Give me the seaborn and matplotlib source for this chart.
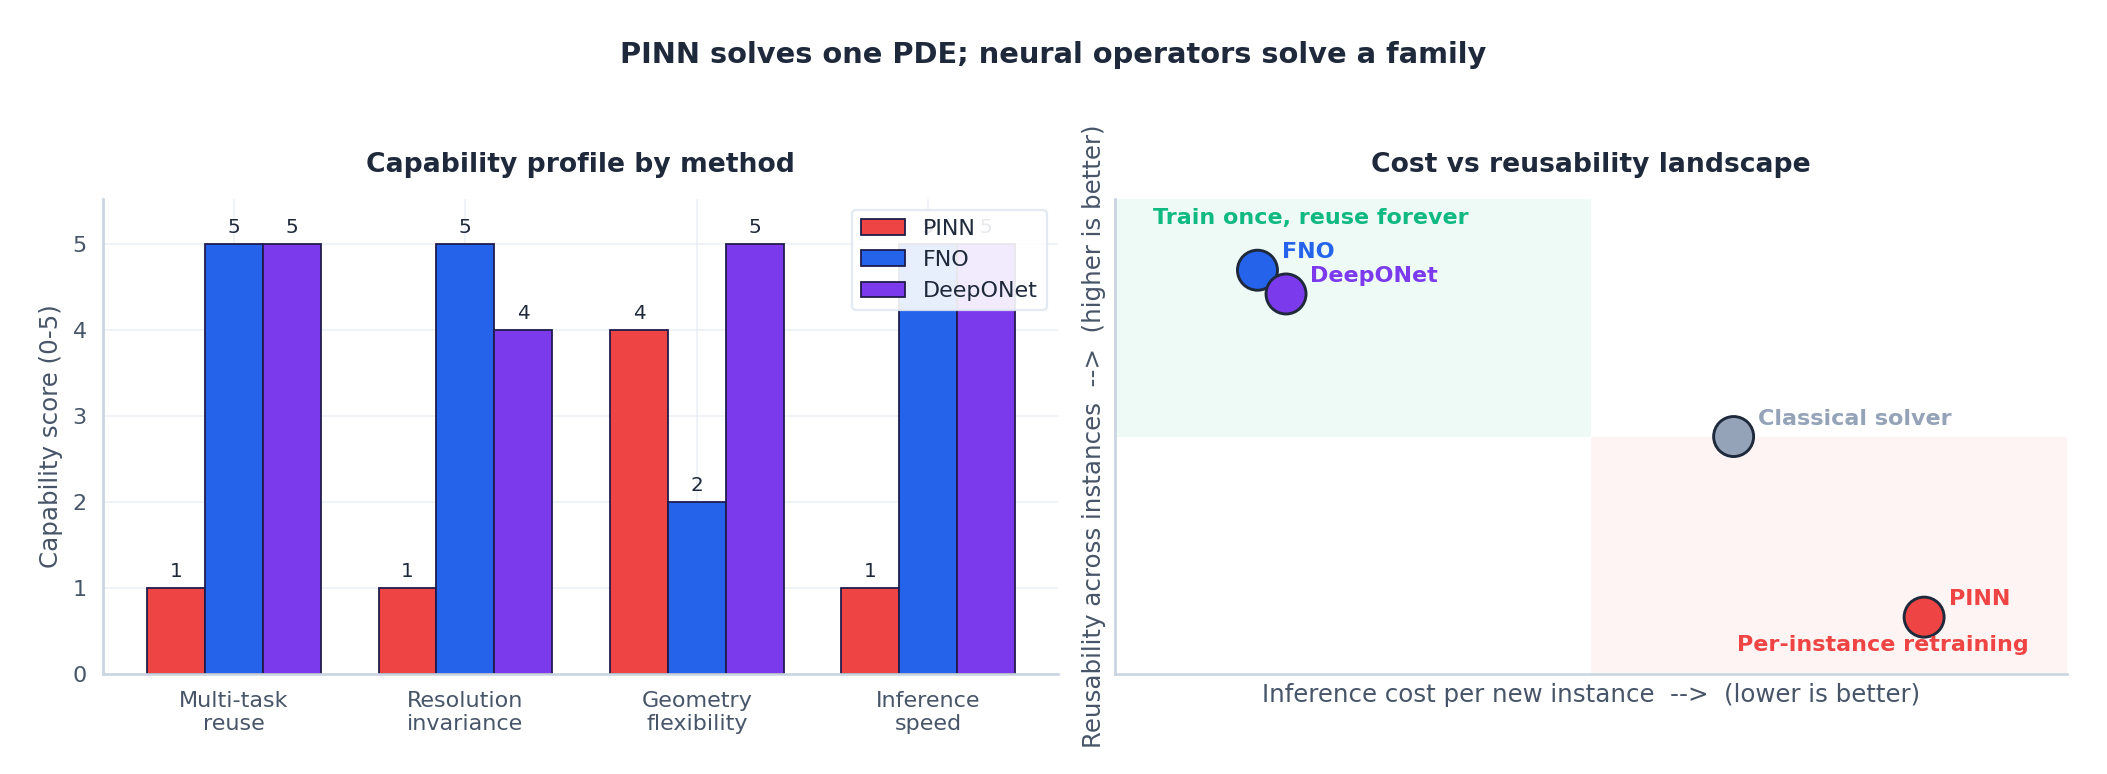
import numpy as np
import pandas as pd
import matplotlib
matplotlib.use("Agg")
import matplotlib.pyplot as plt
import seaborn as sns

# ---- data ----
capabilities = ["Multi-task\nreuse", "Resolution\ninvariance", "Geometry\nflexibility", "Inference\nspeed"]
methods = ["PINN", "FNO", "DeepONet"]
pinn_scores = [1, 1, 4, 1]
fno_scores = [5, 5, 2, 5]
deeponet_scores = [5, 4, 5, 5]

landscape_names = ["FNO", "DeepONet", "Classical solver", "PINN"]
inference_cost = [1.5, 1.8, 6.5, 8.5]
reusability = [8.5, 8.0, 5.0, 1.2]

# ---- style ----
sns.set_theme(style="white")
plt.rcParams['font.family'] = ['DejaVu Sans']
DARK = "#1e293b"
MUTED = "#475569"
SPINE = "#cbd5e1"
colors = {"PINN": "#ef4444", "FNO": "#2563eb", "DeepONet": "#7c3aed", "Classical solver": "#94a3b8"}

DPI = 160
fig = plt.figure(figsize=(2107 / DPI, 774 / DPI), dpi=DPI)
ax1 = fig.add_axes([0.049, 0.129, 0.453, 0.614])
ax2 = fig.add_axes([0.529, 0.129, 0.452, 0.614])

fig.suptitle("PINN solves one PDE; neural operators solve a family", fontsize=13,
             fontweight="bold", color=DARK, y=0.947)

# ---- left: bar chart ----
df = pd.DataFrame({
    "capability": capabilities * 3,
    "method": ["PINN"] * 4 + ["FNO"] * 4 + ["DeepONet"] * 4,
    "score": pinn_scores + fno_scores + deeponet_scores,
})
sns.barplot(data=df, x="capability", y="score", hue="method", hue_order=methods,
            palette=colors, width=0.75, edgecolor="#1e1b4b", linewidth=0.8,
            saturation=1, ax=ax1, zorder=2)
for cont in ax1.containers:
    ax1.bar_label(cont, labels=[f"{int(v)}" for v in cont.datavalues], padding=3,
                  fontsize=9, color=DARK)
ax1.set_ylim(0, 5.52)
ax1.set_xlim(-0.565, 3.56)
ax1.set_title("Capability profile by method", fontsize=12, fontweight="bold", color=DARK, pad=12)
ax1.set_xlabel("")
ax1.set_ylabel("Capability score (0-5)", fontsize=11, color=MUTED)
ax1.grid(True, color="#e2e8f0", linewidth=0.8, alpha=0.6, zorder=0)
ax1.set_axisbelow(True)
ax1.tick_params(axis="both", colors=MUTED, labelsize=10, length=4, color="#64748b", width=0.8)
for s in ["top", "right"]:
    ax1.spines[s].set_visible(False)
for s in ["left", "bottom"]:
    ax1.spines[s].set_color(SPINE)
ax1.spines["bottom"].set_linewidth(1.2)
leg = ax1.legend(loc="upper right", fontsize=10, frameon=True, framealpha=0.9,
                 edgecolor="#e2e8f0", title=None)
for t in leg.get_texts():
    t.set_color(DARK)

# ---- right: landscape ----
ax2.set_xlim(0, 10)
ax2.set_ylim(0, 10)
ax2.axvspan(0, 5, ymin=0.5, ymax=1, color="#10b981", alpha=0.07, lw=0, zorder=0)
ax2.axvspan(5, 10, ymin=0, ymax=0.5, color="#ef4444", alpha=0.06, lw=0, zorder=0)
ld = pd.DataFrame({"name": landscape_names, "cost": inference_cost, "reuse": reusability})
sns.scatterplot(data=ld, x="cost", y="reuse", hue="name", palette=colors, s=324,
                edgecolor=DARK, linewidth=1.3, legend=False, ax=ax2, zorder=3)
for n, x, y in zip(landscape_names, inference_cost, reusability):
    ax2.annotate(n, (x, y), xytext=(11, 8), textcoords="offset points", fontsize=10,
                 fontweight="bold", color=colors[n], va="center", ha="left")
ax2.text(0.04, 0.96, "Train once, reuse forever", transform=ax2.transAxes, fontsize=10,
         fontweight="bold", color="#10b981", ha="left", va="center")
ax2.text(0.807, 0.062, "Per-instance retraining", transform=ax2.transAxes, fontsize=10,
         fontweight="bold", color="#ef4444", ha="center", va="center")
ax2.set_title("Cost vs reusability landscape", fontsize=12, fontweight="bold", color=DARK, pad=12)
ax2.set_xlabel("Inference cost per new instance  -->  (lower is better)", fontsize=11, color=MUTED)
ax2.set_ylabel("Reusability across instances  -->  (higher is better)", fontsize=11, color=MUTED)
ax2.set_xticks([])
ax2.set_yticks([])
for s in ["top", "right"]:
    ax2.spines[s].set_visible(False)
for s in ["left", "bottom"]:
    ax2.spines[s].set_color(SPINE)
ax2.spines["bottom"].set_linewidth(1.2)

fig.savefig("out.png", dpi=DPI)
